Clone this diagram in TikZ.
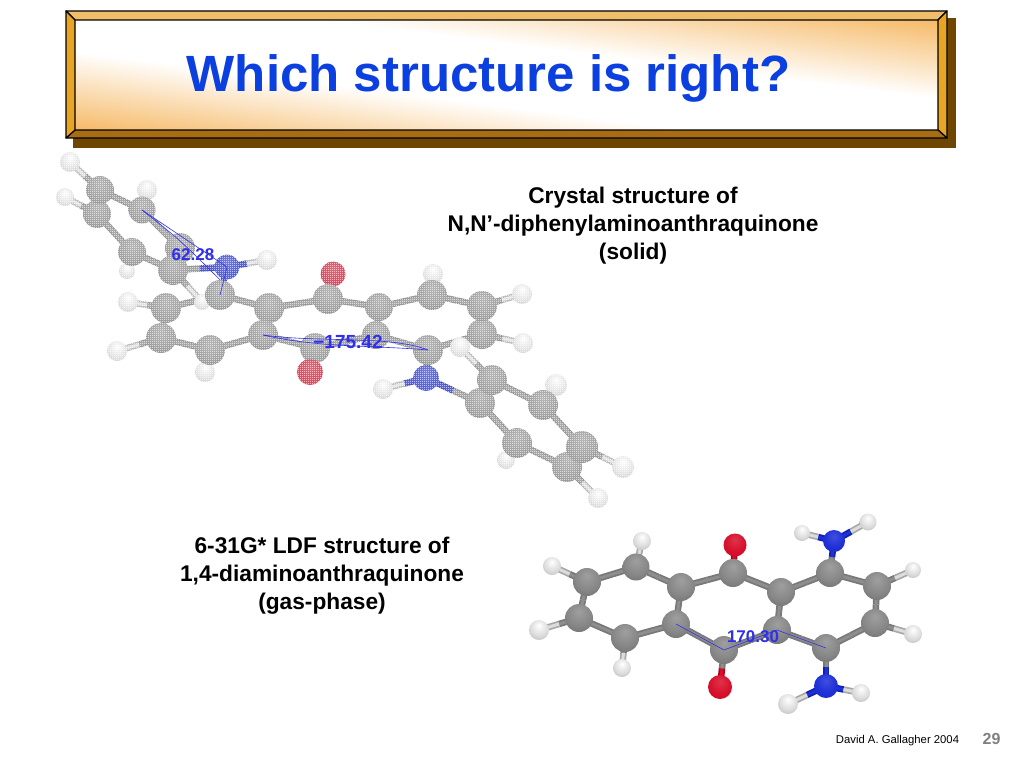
\documentclass[tikz,border=0pt]{standalone}
\usepackage{fontspec}
\setmainfont{Liberation Sans}
\usetikzlibrary{calc,patterns,backgrounds}
\definecolor{carbon}{HTML}{8E8E8E}
\definecolor{carbonedge}{HTML}{787878}
\definecolor{hydrogen}{HTML}{DCDCDC}
\definecolor{hydrogenedge}{HTML}{A8A8A8}
\definecolor{oxygen}{HTML}{D8102C}
\definecolor{oxygenedge}{HTML}{B00020}
\definecolor{nitrogen}{HTML}{1E30D8}
\definecolor{nitrogenedge}{HTML}{1020B0}
\definecolor{framelight}{HTML}{F0BE6A}
\definecolor{frameside}{HTML}{E8A424}
\definecolor{framedark}{HTML}{A86C12}
\definecolor{frameshadow}{HTML}{6E4600}
\definecolor{bandorange}{HTML}{F6BA68}
\definecolor{titleblue}{HTML}{0B3FE0}
\definecolor{annoblue}{HTML}{3030E8}
\pgfdeclareverticalshading{titleband}{100bp}{color(0bp)=(bandorange); color(29bp)=(bandorange); color(44bp)=(white); color(56bp)=(white); color(71bp)=(bandorange); color(100bp)=(bandorange)}
\pgfdeclareradialshading{carbonball}{\pgfpoint{0bp}{12bp}}{color(0bp)=(carbon!85!white); color(22bp)=(carbon!95!black); color(45bp)=(carbon!70!black); color(62bp)=(carbon!45!black)}
\pgfdeclareradialshading{hydrogenball}{\pgfpoint{0bp}{12bp}}{color(0bp)=(white); color(22bp)=(hydrogen); color(45bp)=(hydrogenedge); color(62bp)=(hydrogenedge!70!black)}
\pgfdeclareradialshading{oxygenball}{\pgfpoint{0bp}{12bp}}{color(0bp)=(oxygen!85!white); color(22bp)=(oxygen); color(45bp)=(oxygen!85!black); color(62bp)=(oxygen!60!black)}
\pgfdeclareradialshading{nitrogenball}{\pgfpoint{0bp}{12bp}}{color(0bp)=(nitrogen!85!white); color(22bp)=(nitrogen); color(45bp)=(nitrogen!85!black); color(62bp)=(nitrogen!60!black)}
\pgfdeclarepatternformonly{stipple}{\pgfpointorigin}{\pgfpoint{2pt}{2pt}}{\pgfpoint{2pt}{2pt}}{\pgfpathrectangle{\pgfpointorigin}{\pgfpoint{1pt}{1pt}}\pgfpathrectangle{\pgfpoint{1pt}{1pt}}{\pgfpoint{1pt}{1pt}}\pgfusepath{fill}}
\tikzset{
  x=1pt, y=-1pt,
  atom/.style={circle, inner sep=0pt, minimum size=#1},
  catom/.style={atom=#1, shading=carbonball},
  hatom/.style={atom=#1, shading=hydrogenball},
  oatom/.style={atom=#1, shading=oxygenball},
  natom/.style={atom=#1, shading=nitrogenball},
  bondtube/.style={line width=6.5pt, draw=#1edge, postaction={draw=#1, line width=3pt}},
  anno/.style={draw=annoblue, line width=0.6pt},
  annotext/.style={text=annoblue, inner sep=0pt, font=\fontsize{17}{17}\selectfont\bfseries},
  caption/.style={align=center, inner sep=0pt, font=\fontsize{22.7}{28}\selectfont\bfseries},
}
\begin{document}
\begin{tikzpicture}
\useasboundingbox (0,0) rectangle (1024,768);
% title frame
\coordinate (fo1) at (66,11);
\coordinate (fo2) at (947,11);
\coordinate (fo3) at (947,138);
\coordinate (fo4) at (66,138);
\coordinate (fi1) at (75,20);
\coordinate (fi2) at (938,20);
\coordinate (fi3) at (938,130);
\coordinate (fi4) at (75,130);
\fill[frameshadow] (73,18) rectangle (956,148);
\begin{scope}
\clip (fi1) rectangle (fi3);
\shade[shading=titleband, transform canvas={rotate around={-7.3:(506.5,75)}}] (-100,-55) rectangle (1100,205);
\end{scope}
\filldraw[fill=framelight, line width=1.2pt, line join=round] (fo1) -- (fo2) -- (fi2) -- (fi1) -- cycle;
\filldraw[fill=frameside, line width=1.2pt, line join=round] (fo2) -- (fo3) -- (fi3) -- (fi2) -- cycle;
\filldraw[fill=framedark, line width=1.2pt, line join=round] (fo3) -- (fo4) -- (fi4) -- (fi3) -- cycle;
\filldraw[fill=frameside, line width=1.2pt, line join=round] (fo4) -- (fo1) -- (fi1) -- (fi4) -- cycle;
\node (title)[text=titleblue, font=\fontsize{51}{51}\selectfont\bfseries] at (488.5,78.5) {Which structure is right?};
% crystal structure
\node (th1)[hatom=20pt] at (70,162) {};
\node (th2)[hatom=18pt] at (65,197) {};
\node (th3)[hatom=20pt] at (147,190) {};
\node (th4)[hatom=16pt] at (127,271) {};
\node (th5)[hatom=16pt] at (202,302) {};
\node (tb)[catom=28pt] at (97,214) {};
\node (ta)[catom=28pt] at (100,190) {};
\node (tc)[catom=27pt] at (142,210) {};
\node (td)[catom=28pt] at (132,252) {};
\node (te)[catom=30pt] at (180,248) {};
\node (tf)[catom=30pt] at (173,270) {};
\node (tc1)[catom=30pt] at (220,295) {};
\node (tn1)[natom=25pt] at (227,267) {};
\node (th6)[hatom=20pt] at (267,260) {};
\node (th7)[hatom=20pt] at (128,302) {};
\node (th8)[hatom=20pt] at (117,351) {};
\node (th9)[hatom=20pt] at (205,372) {};
\node (tc3)[catom=30pt] at (161,338) {};
\node (tc2)[catom=30pt] at (166,308) {};
\node (tc4)[catom=30pt] at (210,350) {};
\node (tc6)[catom=30pt] at (269,308) {};
\node (tc5)[catom=30pt] at (263,335) {};
\node (to1)[oatom=25pt] at (333,274) {};
\node (tc7)[catom=30pt] at (328,299) {};
\node (tc8)[catom=30pt] at (315,348) {};
\node (to2)[oatom=26pt] at (310,372) {};
\node (th10)[hatom=20pt] at (433,274) {};
\node (tc9)[catom=28pt] at (376,335) {};
\node (tc10)[catom=28pt] at (379,307) {};
\node (tc11)[catom=30pt] at (432,295) {};
\node (th11)[hatom=20pt] at (522,294) {};
\node (th12)[hatom=20pt] at (523,343) {};
\node (tc13)[catom=30pt] at (482,334) {};
\node (tc12)[catom=30pt] at (482,306) {};
\node (th13)[hatom=20pt] at (383,389) {};
\node (tc14)[catom=30pt] at (428,350) {};
\node (tn2)[natom=26pt] at (426,378) {};
\node (th14)[hatom=20pt] at (460,347) {};
\node (th15)[hatom=18pt] at (506,460) {};
\node (th16)[hatom=22pt] at (556,385) {};
\node (th17)[hatom=22pt] at (623,467) {};
\node (th18)[hatom=20pt] at (598,498) {};
\node (tp2)[catom=30pt] at (480,403) {};
\node (tp1)[catom=30pt] at (492,380) {};
\node (tp3)[catom=30pt] at (543,405) {};
\node (tp4)[catom=30pt] at (517,443) {};
\node (tp6)[catom=30pt] at (567,467) {};
\node (tp5)[catom=32pt] at (582,447) {};
% optimised structure
\node (bh1)[hatom=18pt] at (552,566) {};
\node (bh2)[hatom=20pt] at (539,630) {};
\node (bh3)[hatom=18pt] at (642,541) {};
\node (bh4)[hatom=18pt] at (622,668) {};
\node (bc1)[catom=28pt] at (587,582) {};
\node (bc2)[catom=28pt] at (579,618) {};
\node (bc3)[catom=27pt] at (636,567) {};
\node (bc4)[catom=28pt] at (625,638) {};
\node (bc5)[catom=28pt] at (681,587) {};
\node (bc6)[catom=28pt] at (676,624) {};
\node (bo1)[oatom=23pt] at (735,545) {};
\node (bc7)[catom=28pt] at (733,573) {};
\node (bc8)[catom=28pt] at (724,650) {};
\node (bo2)[oatom=24pt] at (720,687) {};
\node (bc9)[catom=28pt] at (781,592) {};
\node (bc10)[catom=28pt] at (777,630) {};
\node (bh5)[hatom=16pt] at (802,533) {};
\node (bh6)[hatom=17pt] at (868,522) {};
\node (bn1)[natom=22pt] at (834,541) {};
\node (bc11)[catom=28pt] at (830,573) {};
\node (bc12)[catom=28pt] at (877,586) {};
\node (bh7)[hatom=16pt] at (913,570) {};
\node (bc13)[catom=28pt] at (875,623) {};
\node (bh8)[hatom=18pt] at (913,634) {};
\node (bc14)[catom=28pt] at (826,648) {};
\node (bh9)[hatom=20pt] at (788,704) {};
\node (bh10)[hatom=18pt] at (861,693) {};
\node (bn2)[natom=24pt] at (826,686) {};
\begin{scope}[on background layer]
\foreach \from/\to/\halfa/\halfb in {
  ta/th1/carbon/hydrogen, tb/th2/carbon/hydrogen, tc/th3/carbon/hydrogen, td/th4/carbon/hydrogen,
  ta/tb/carbon/carbon, ta/tc/carbon/carbon, tb/td/carbon/carbon, tc/te/carbon/carbon, td/tf/carbon/carbon,
  te/tf/carbon/carbon, tf/tn1/carbon/nitrogen, tf/th5/carbon/hydrogen, tn1/th6/nitrogen/hydrogen, tc1/tn1/carbon/nitrogen,
  tc1/tc2/carbon/carbon, tc2/tc3/carbon/carbon, tc3/tc4/carbon/carbon, tc4/tc5/carbon/carbon, tc5/tc6/carbon/carbon, tc6/tc1/carbon/carbon,
  tc2/th7/carbon/hydrogen, tc3/th8/carbon/hydrogen, tc4/th9/carbon/hydrogen,
  tc6/tc7/carbon/carbon, tc7/tc10/carbon/carbon, tc10/tc9/carbon/carbon, tc9/tc8/carbon/carbon, tc8/tc5/carbon/carbon,
  tc7/to1/carbon/oxygen, tc8/to2/carbon/oxygen,
  tc10/tc11/carbon/carbon, tc11/tc12/carbon/carbon, tc12/tc13/carbon/carbon, tc13/tc14/carbon/carbon, tc14/tc9/carbon/carbon,
  tc11/th10/carbon/hydrogen, tc12/th11/carbon/hydrogen, tc13/th12/carbon/hydrogen,
  tc14/tn2/carbon/nitrogen, tn2/th13/nitrogen/hydrogen, tn2/tp2/nitrogen/carbon,
  tp1/tp2/carbon/carbon, tp1/tp3/carbon/carbon, tp2/tp4/carbon/carbon, tp3/tp5/carbon/carbon, tp4/tp6/carbon/carbon, tp5/tp6/carbon/carbon,
  tp1/th14/carbon/hydrogen, tp3/th16/carbon/hydrogen, tp4/th15/carbon/hydrogen, tp5/th17/carbon/hydrogen, tp6/th18/carbon/hydrogen,
  bc1/bh1/carbon/hydrogen, bc2/bh2/carbon/hydrogen, bc3/bh3/carbon/hydrogen, bc4/bh4/carbon/hydrogen,
  bc1/bc2/carbon/carbon, bc1/bc3/carbon/carbon, bc2/bc4/carbon/carbon, bc3/bc5/carbon/carbon, bc4/bc6/carbon/carbon, bc5/bc6/carbon/carbon,
  bc5/bc7/carbon/carbon, bc7/bc9/carbon/carbon, bc9/bc10/carbon/carbon, bc10/bc8/carbon/carbon, bc8/bc6/carbon/carbon,
  bc7/bo1/carbon/oxygen, bc8/bo2/carbon/oxygen,
  bc9/bc11/carbon/carbon, bc11/bc12/carbon/carbon, bc12/bc13/carbon/carbon, bc13/bc14/carbon/carbon, bc14/bc10/carbon/carbon,
  bc12/bh7/carbon/hydrogen, bc13/bh8/carbon/hydrogen,
  bc11/bn1/carbon/nitrogen, bn1/bh5/nitrogen/hydrogen, bn1/bh6/nitrogen/hydrogen,
  bc14/bn2/carbon/nitrogen, bn2/bh9/nitrogen/hydrogen, bn2/bh10/nitrogen/hydrogen}{
  \draw[bondtube=\halfa] (\from.center) -- ($(\from.center)!.5!(\to.center)$);
  \draw[bondtube=\halfb] ($(\from.center)!.5!(\to.center)$) -- (\to.center);
}
\end{scope}
% stippled screen over the crystal structure
\fill[white, opacity=.15] (50,150) rectangle (640,515);
\fill[pattern=stipple, pattern color=white] (50,150) rectangle (640,515);
% measured angles
\draw[anno] (tc.center) -- (tn1.center);
\draw[anno] (tc.center) .. controls (180,240) .. (tc1.north);
\draw[anno] (tn1.center) -- (tc1.center);
\draw[anno] (tc5.center) .. controls (320,348) and (370,345) .. (tc14.center);
\draw[anno] (tc5.center) .. controls (320,343) and (390,335) .. (tc14.center);
\draw[anno] (bc6.center) -- (bc8.center) -- (bc10.center) -- (bc14.center);
\node (ang1)[annotext] at (193,255) {62.28};
\node (ang2)[annotext, font=\fontsize{19}{19}\selectfont\bfseries] at (348,342) {−175.42};
\node (ang3)[annotext] at (753,637) {170.30};
% captions
\node (capa)[caption] at (633,226) {Crystal structure of\\N,N’-diphenylaminoanthraquinone\\(solid)};
\node (capb)[caption] at (322,576) {6-31G* LDF structure of\\1,4-diaminoanthraquinone\\(gas-phase)};
\node (credit)[font=\fontsize{11.3}{11.3}\selectfont, inner sep=0pt] at (897.5,741) {David A. Gallagher 2004};
\node (pageno)[text=black!50, font=\fontsize{16}{16}\selectfont\bfseries, inner sep=0pt] at (991.5,739) {29};
\end{tikzpicture}
\end{document}
